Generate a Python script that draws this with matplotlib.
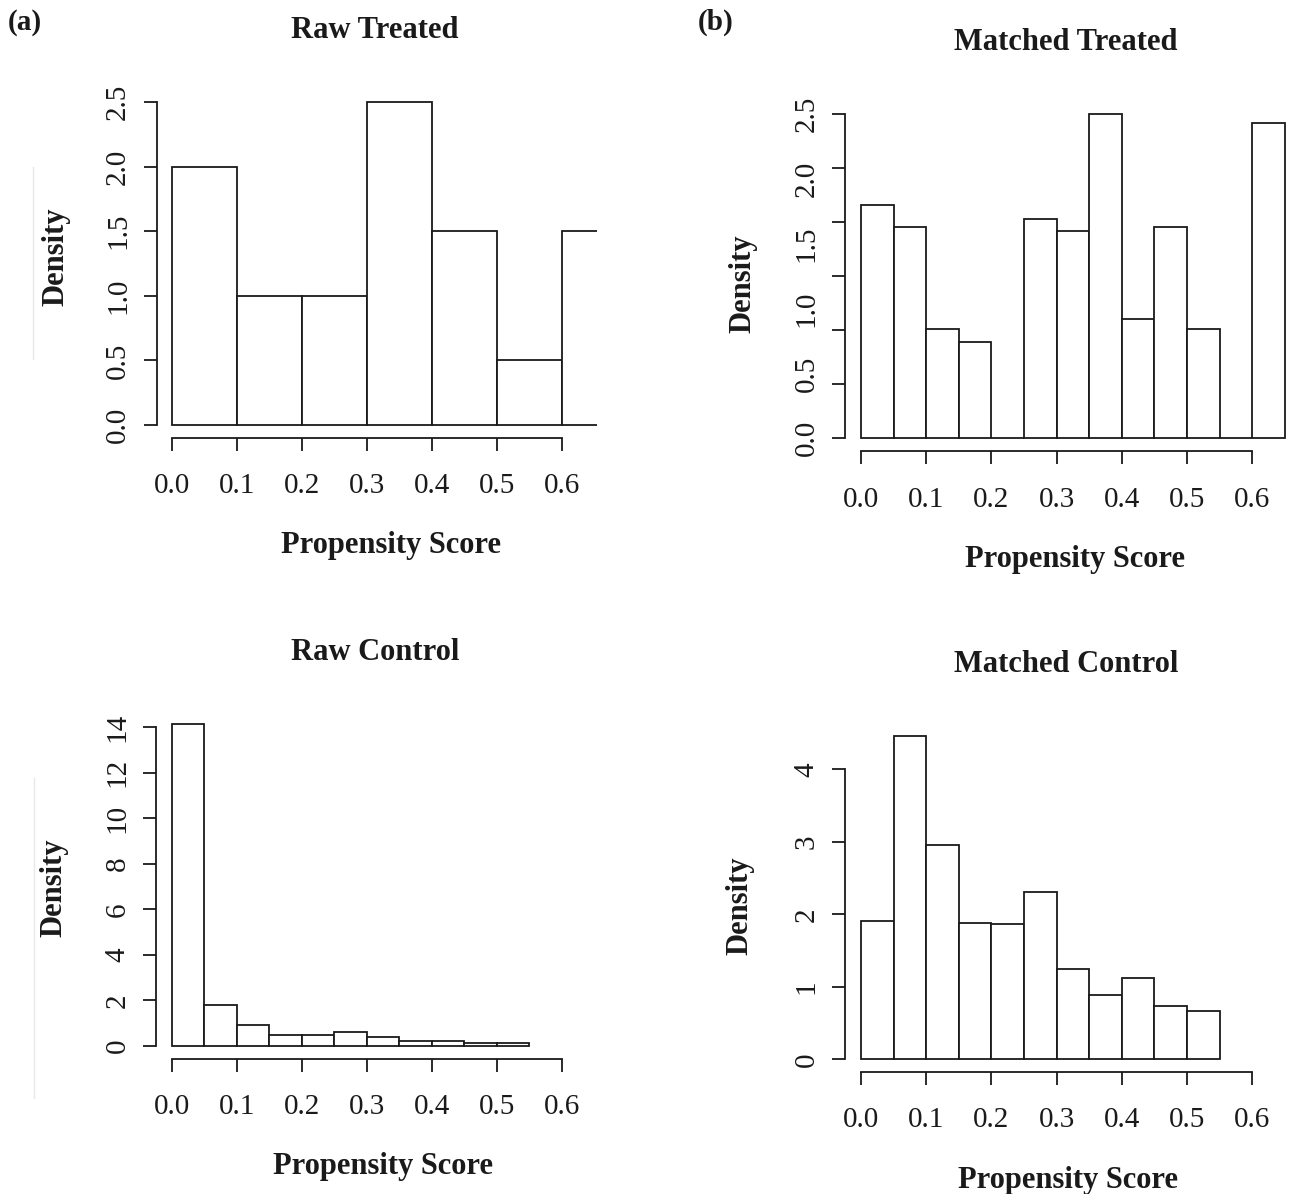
import matplotlib
matplotlib.use("Agg")
from matplotlib import pyplot as plt

# histogram data (density)
raw_treated_edges = [0.0, 0.1, 0.2, 0.3, 0.4, 0.5, 0.6, 0.7]
raw_treated = [2.0, 1.0, 1.0, 2.5, 1.5, 0.5, 1.5]

matched_treated_edges = [0.0, 0.05, 0.1, 0.15, 0.2, 0.25, 0.3, 0.35, 0.4, 0.45, 0.5, 0.55, 0.6, 0.65]
matched_treated = [1.80, 1.63, 0.84, 0.74, 0.0, 1.69, 1.60, 2.5, 0.92, 1.63, 0.84, 0.0, 2.43]

raw_control_edges = [0.0, 0.05, 0.1, 0.15, 0.2, 0.25, 0.3, 0.35, 0.4, 0.45, 0.5, 0.55]
raw_control = [14.15, 1.78, 0.90, 0.47, 0.47, 0.63, 0.39, 0.22, 0.22, 0.12, 0.12]

matched_control_edges = [0.0, 0.05, 0.1, 0.15, 0.2, 0.25, 0.3, 0.35, 0.4, 0.45, 0.5, 0.55]
matched_control = [1.91, 4.455, 2.95, 1.88, 1.86, 2.31, 1.25, 0.88, 1.12, 0.73, 0.66]

x_ticks = [0.0, 0.1, 0.2, 0.3, 0.4, 0.5, 0.6]
x_labels = ["0.0", "0.1", "0.2", "0.3", "0.4", "0.5", "0.6"]

W, H = 1298, 1194
ink = "#1a1a1a"
lw = 1.3
serif = "Liberation Serif"


def box(l, r, t, b):
    return [l / W, 1 - b / H, (r - l) / W, (b - t) / H]


def hist_panel(fig, rect, edges, dens, xlim, ylim, yticks, ylabels):
    ax = fig.add_axes(rect)
    widths = [edges[i + 1] - edges[i] for i in range(len(dens))]
    ax.bar(edges[:-1], dens, width=widths, align="edge", facecolor="white",
           edgecolor=ink, linewidth=lw)
    ax.set_xlim(*xlim)
    ax.set_ylim(*ylim)
    for s in ["top", "right"]:
        ax.spines[s].set_visible(False)
    for s in ["left", "bottom"]:
        ax.spines[s].set_linewidth(lw)
        ax.spines[s].set_color(ink)
    ax.spines["bottom"].set_bounds(x_ticks[0], x_ticks[-1])
    ax.spines["left"].set_bounds(yticks[0], yticks[-1])
    ax.set_xticks(x_ticks)
    ax.set_xticklabels(x_labels, fontfamily=serif, fontsize=21)
    ax.set_yticks(yticks)
    if ylabels is not None:
        ax.set_yticklabels(ylabels, fontfamily=serif, fontsize=21,
                           rotation=90, va="center")
    else:
        ax.set_yticklabels([])
    ax.tick_params(direction="out", length=9.4, width=lw, colors=ink)
    ax.tick_params(axis="x", pad=16)
    ax.tick_params(axis="y", pad=9)
    ax.patch.set_visible(False)
    return ax


fig = plt.figure(figsize=(W / 100, H / 100), dpi=100)

# (a) raw treated
hist_panel(fig, box(156.7, 596.75, 89.1, 437.9), raw_treated_edges, raw_treated,
           (-0.024, 0.653), (-0.1, 2.6), [0.0, 0.5, 1.0, 1.5, 2.0, 2.5],
           ["0.0", "0.5", "1.0", "1.5", "2.0", "2.5"])

# (b) matched treated: seven tick marks, six labels
axb = hist_panel(fig, box(845.4, 1288.7, 101.3, 451.3), matched_treated_edges, matched_treated,
                 (-0.024, 0.656), (-0.1, 2.6),
                 [0.0, 0.4167, 0.8333, 1.25, 1.6667, 2.0833, 2.5], None)
axb.yaxis.remove_overlapping_locs = False
axb.set_yticks([0.0, 0.5, 1.0, 1.5, 2.0, 2.5], minor=True)
axb.set_yticklabels(["0.0", "0.5", "1.0", "1.5", "2.0", "2.5"], minor=True,
                    fontfamily=serif, fontsize=21, rotation=90, va="center")
axb.tick_params(axis="y", which="minor", length=0, pad=18.4, colors=ink)

# (c) raw control
hist_panel(fig, box(156.1, 577.6, 710.7, 1058.9), raw_control_edges, raw_control,
           (-0.024, 0.624), (-0.566, 14.716), [0, 2, 4, 6, 8, 10, 12, 14],
           ["0", "2", "4", "6", "8", "10", "12", "14"])

# (d) matched control
hist_panel(fig, box(845.4, 1267.8, 723.4, 1072.2), matched_control_edges, matched_control,
           (-0.024, 0.624), (-0.178, 4.633), [0, 1, 2, 3, 4],
           ["0", "1", "2", "3", "4"])


def ftext(x, y, s, **kw):
    fig.text(x / W, 1 - y / H, s, color=ink, **kw)


bold = dict(fontfamily=serif, fontweight="bold", fontsize=22)
# titles
ftext(375, 38, "Raw Treated", ha="center", va="baseline", **bold)
ftext(1066, 50.3, "Matched Treated", ha="center", va="baseline", **bold)
ftext(375, 659.7, "Raw Control", ha="center", va="baseline", **bold)
ftext(1066, 672.4, "Matched Control", ha="center", va="baseline", **bold)
# x labels
ftext(391, 553.3, "Propensity Score", ha="center", va="baseline", **bold)
ftext(1075, 566.7, "Propensity Score", ha="center", va="baseline", **bold)
ftext(383, 1174.3, "Propensity Score", ha="center", va="baseline", **bold)
ftext(1068, 1187.6, "Propensity Score", ha="center", va="baseline", **bold)
# y labels
ftext(56, 257, "Density", ha="center", va="center", rotation=90, **bold)
ftext(743, 284, "Density", ha="center", va="center", rotation=90, **bold)
ftext(54, 888, "Density", ha="center", va="center", rotation=90, **bold)
ftext(740, 906, "Density", ha="center", va="center", rotation=90, **bold)
# panel tags
ftext(8, 30, "(a)", ha="left", va="baseline", fontfamily=serif, fontweight="bold", fontsize=21)
ftext(698, 30, "(b)", ha="left", va="baseline", fontfamily=serif, fontweight="bold", fontsize=21)

# faint scan lines left of the Density labels
fig.add_artist(plt.Line2D([33 / W, 33 / W], [1 - 167 / H, 1 - 359 / H], color="#e8e8e8", lw=1))
fig.add_artist(plt.Line2D([34 / W, 34 / W], [1 - 778 / H, 1 - 1098 / H], color="#e8e8e8", lw=1))

fig.savefig("out.png", dpi=100, facecolor="white")
